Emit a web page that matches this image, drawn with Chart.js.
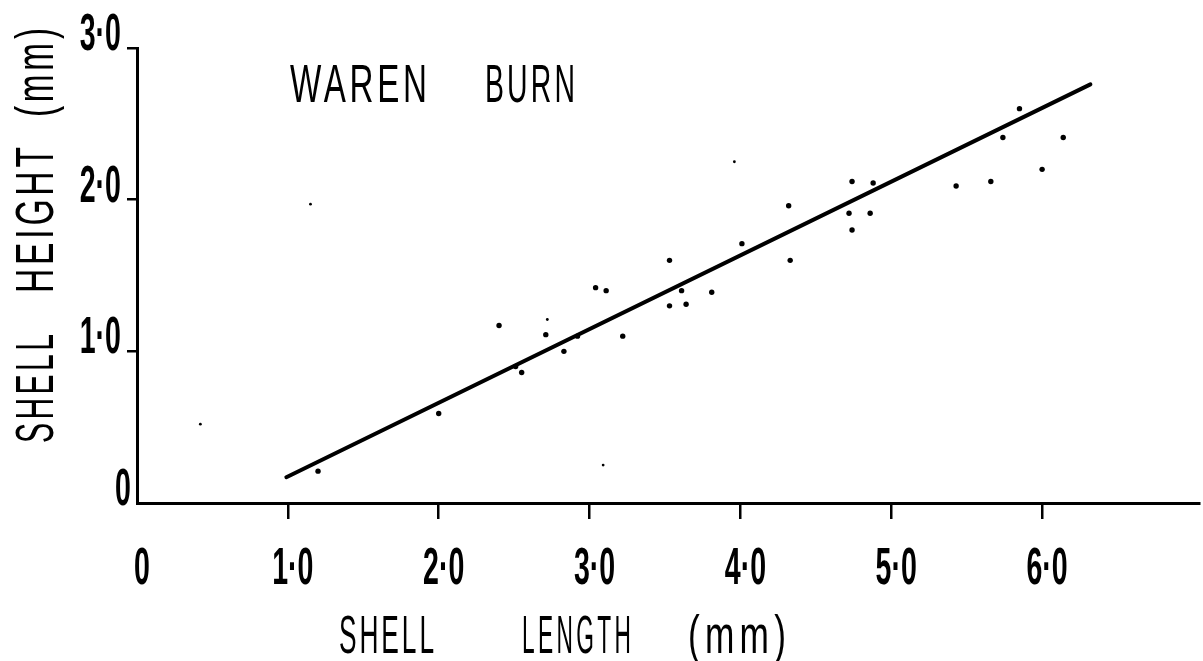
<!DOCTYPE html>
<html>
<head>
<meta charset="utf-8">
<script src="https://cdn.jsdelivr.net/npm/chart.js@4"></script>
<style>
	html, body { margin: 0; padding: 0; background: #fff; }
	canvas { display: block; }
</style>
</head>
<body>
<canvas id="chart" width="1203" height="661"></canvas>
<script>
// shell length (x) / shell height (y)
const lengthMm = [1.20, 2.00, 2.40, 2.51, 2.55, 2.71, 2.83, 2.92, 3.04, 3.11, 3.22, 3.53, 3.61, 3.53, 3.64, 3.81, 4.01, 4.32, 4.33, 4.74, 4.88, 4.72, 4.86, 4.74, 5.43, 5.66, 5.74, 5.85, 6.00, 6.14];
const heightMm = [0.21, 0.59, 1.17, 0.90, 0.86, 1.11, 1.00, 1.10, 1.42, 1.40, 1.10, 1.60, 1.40, 1.30, 1.31, 1.39, 1.71, 1.96, 1.60, 2.12, 2.11, 1.91, 1.91, 1.80, 2.09, 2.12, 2.41, 2.60, 2.20, 2.41];

// faint specks on the scan
const speckLength = [0.42, 1.15, 2.72, 3.09, 3.96];
const speckHeight = [0.52, 1.97, 1.21, 0.25, 2.25];

// fitted line end points
const fitLength = [0.99, 6.32];
const fitHeight = [0.17, 2.76];

const xTicks = [0, 1, 2, 3, 4, 5, 6];
const yTicks = [0, 1, 2, 3];

const FONT = '"Liberation Sans", "DejaVu Sans", sans-serif';

function pairs(xs, ys) {
	return xs.map((x, i) => ({x, y: ys[i]}));
}

function fmt(v) {
	return v === 0 ? '0' : v.toFixed(1).replace('.', '·');
}

// draw a word squeezed to a given length, along an angle
function drawWord(ctx, text, ox, oy, length, size, spacing, angle) {
	ctx.save();
	ctx.font = size + 'px ' + FONT;
	ctx.letterSpacing = spacing + 'px';
	const w = ctx.measureText(text).width - spacing;
	ctx.translate(ox, oy);
	ctx.rotate(angle || 0);
	ctx.scale(length / w, 1);
	ctx.fillStyle = '#000';
	ctx.textAlign = 'left';
	ctx.textBaseline = 'alphabetic';
	ctx.fillText(text, 0, 0);
	ctx.restore();
}

function drawLabel(ctx, text, x, baseline, align) {
	ctx.save();
	ctx.font = 'bold 51px ' + FONT;
	ctx.translate(x, baseline);
	ctx.scale(0.56, 1);
	ctx.fillStyle = '#000';
	ctx.textAlign = align;
	ctx.textBaseline = 'alphabetic';
	ctx.fillText(text, 0, 0);
	ctx.restore();
}

const textPlugin = {
	id: 'scanText',
	afterDraw(chart) {
		const ctx = chart.ctx,
			xs = chart.scales.x,
			ys = chart.scales.y;

		xTicks.forEach(v => {
			drawLabel(ctx, fmt(v), xs.getPixelForValue(v) + 5, 584, 'center');
		});
		yTicks.forEach(v => {
			const right = v === 0 ? 131 : 121;
			drawLabel(ctx, fmt(v), right, ys.getPixelForValue(v) + 2, 'right');
		});

		// title inside the plot
		drawWord(ctx, 'WAREN', 290, 102, 137, 54, 6);
		drawWord(ctx, 'BURN', 485, 102, 90, 54, 6);

		// x axis title
		drawWord(ctx, 'SHELL', 339, 653, 95, 54, 6);
		drawWord(ctx, 'LENGTH', 522, 653, 109, 54, 8);
		drawWord(ctx, '(mm)', 688, 653, 98, 54, 8);

		// y axis title, reading upwards
		const up = -Math.PI / 2;
		drawWord(ctx, 'SHELL', 53, 443, 109, 54, 6, up);
		drawWord(ctx, 'HEIGHT', 53, 293, 146, 54, 6, up);
		drawWord(ctx, '(mm)', 53, 117, 89, 54, 6, up);
	}
};

function tickColor(ctx) {
	const v = ctx.tick ? ctx.tick.value : 0;
	return (v === 0 || v > 6.5) ? 'rgba(0,0,0,0)' : '#000';
}

new Chart(document.getElementById('chart'), {
	type: 'scatter',
	data: {
		datasets: [{
			label: 'fit',
			data: pairs(fitLength, fitHeight),
			showLine: true,
			borderColor: '#000',
			borderWidth: 4,
			borderCapStyle: 'round',
			pointRadius: 0
		}, {
			label: 'shells',
			data: pairs(lengthMm, heightMm),
			pointRadius: 2.7,
			pointBackgroundColor: '#000',
			pointBorderWidth: 0
		}, {
			label: 'specks',
			data: pairs(speckLength, speckHeight),
			pointRadius: 1.4,
			pointBackgroundColor: '#000',
			pointBorderWidth: 0
		}]
	},
	options: {
		responsive: false,
		animation: false,
		devicePixelRatio: 1,
		layout: {
			padding: {left: 127, top: 48, right: 0, bottom: 142}
		},
		plugins: {
			legend: {display: false},
			tooltip: {enabled: false}
		},
		scales: {
			x: {
				type: 'linear',
				min: 0,
				max: 7.04,
				ticks: {display: false, stepSize: 1},
				border: {color: '#000', width: 3},
				grid: {
					drawOnChartArea: false,
					drawTicks: true,
					tickLength: 16,
					lineWidth: 2.5,
					color: tickColor
				}
			},
			y: {
				type: 'linear',
				min: 0,
				max: 3,
				ticks: {display: false, stepSize: 1},
				border: {color: '#000', width: 3},
				grid: {
					drawOnChartArea: false,
					drawTicks: true,
					tickLength: 10,
					lineWidth: 2.5,
					color: tickColor
				}
			}
		}
	},
	plugins: [textPlugin]
});
</script>
</body>
</html>
